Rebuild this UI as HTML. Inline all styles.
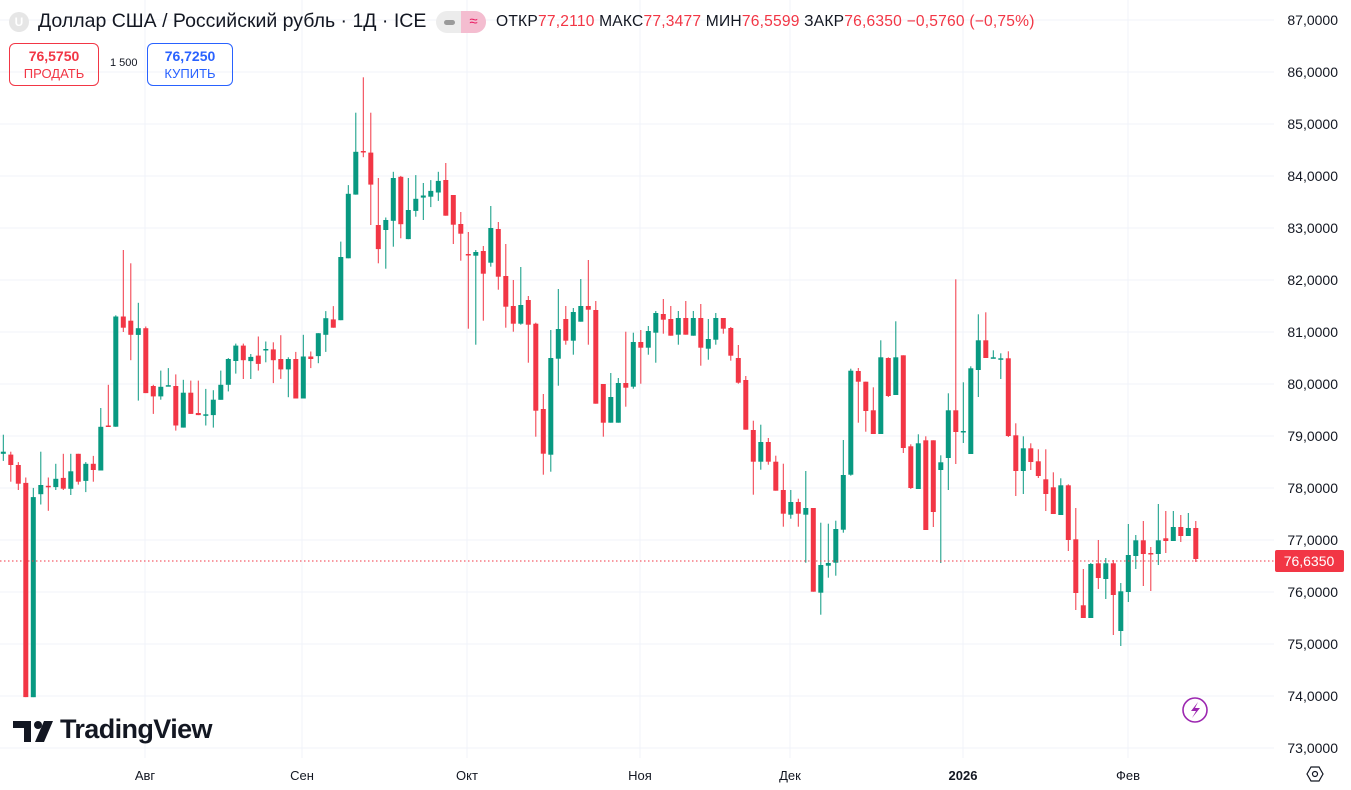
<!DOCTYPE html>
<html><head><meta charset="utf-8"><style>
body{margin:0;width:1351px;height:790px;overflow:hidden;background:#fff;font-family:"Liberation Sans",sans-serif;position:relative}
.ab{position:absolute;white-space:nowrap}
</style></head><body>
<svg id="c" width="1351" height="790" style="position:absolute;left:0;top:0"></svg>
<div class="ab" style="left:9px;top:12px;width:20px;height:20px;border-radius:50%;background:#e6e6e6;color:#fff;font-size:12px;font-weight:bold;text-align:center;line-height:20px">U</div>
<div class="ab" style="left:38px;top:10px;font-size:19.5px;color:#131722">Доллар США / Российский рубль · 1Д · ICE</div>
<div class="ab" style="left:436px;top:11px;width:50px;height:22px;border-radius:11px;background:#ececec;overflow:hidden"><div style="position:absolute;left:25px;top:0;width:25px;height:22px;background:#f4bdd0;color:#e91e63;font-size:15px;text-align:center;line-height:22px">≈</div><div style="position:absolute;left:8px;top:9px;width:11px;height:5px;border-radius:3px;background:#9a9a9a"></div></div>
<div class="ab" style="left:496px;top:13px;font-size:15.6px;color:#131722;letter-spacing:0.2px">ОТКР<span style="color:#f23645">77,2110</span> МАКС<span style="color:#f23645">77,3477</span> МИН<span style="color:#f23645">76,5599</span> ЗАКР<span style="color:#f23645">76,6350 −0,5760 (−0,75%)</span></div>
<div class="ab" style="left:9px;top:43px;width:88px;height:41px;border:1px solid #f23645;border-radius:6px;text-align:center;color:#f23645"><div style="font-size:14px;font-weight:bold;margin-top:4px">76,5750</div><div style="font-size:13px;margin-top:2px">ПРОДАТЬ</div></div>
<div class="ab" style="left:110px;top:57px;font-size:11px;color:#131722">1 500</div>
<div class="ab" style="left:147px;top:43px;width:84px;height:41px;border:1px solid #2962ff;border-radius:6px;text-align:center;color:#2962ff"><div style="font-size:14px;font-weight:bold;margin-top:4px">76,7250</div><div style="font-size:13px;margin-top:2px">КУПИТЬ</div></div>
<div class="ab" style="left:60px;top:714px;font-size:27px;font-weight:bold;color:#131722;letter-spacing:-0.6px">TradingView</div>
<script>
var s=document.getElementById('c'),h='';
for(var v=87;v>=73;v--){var y=20+(87-v)*52;h+='<line x1="0" x2="1274" y1="'+y+'" y2="'+y+'" stroke="#f0f3fa"/>';h+='<text x="1338" y="'+(y+5)+'" font-size="14" text-anchor="end" fill="#131722" font-family="Liberation Sans">'+v+',0000</text>';}
var mx=[[145,'Авг'],[302,'Сен'],[467,'Окт'],[640,'Ноя'],[790,'Дек'],[963,'2026'],[1128,'Фев']];
mx.forEach(function(m){h+='<line x1="'+m[0]+'" x2="'+m[0]+'" y1="0" y2="758" stroke="#f0f3fa"/>';h+='<text x="'+m[0]+'" y="780" font-size="13" text-anchor="middle" fill="#131722" font-family="Liberation Sans"'+(m[1]=='2026'?' font-weight="bold"':'')+'>'+m[1]+'</text>';});
var A=[['g',902,965,943,948],['r',943,1015,950,975],['r',968,1035,975,1020],['r',1005,1533,1018,1533],['g',1030,1533,1052,1533],['g',943,1070,1023,1045],['r',1005,1085,1025,1028],['g',972,1035,1008,1028],['r',948,1035,1006,1032],['g',948,1047,990,1032],['r',948,1022,948,1015],['g',968,1040,972,1013],['r',953,1015,972,987],['g',838,988,883,988],['r',782,883,880,883],['g',615,883,618,883],['r',458,655,618,645],['r',490,723,628,662],['g',585,820,646,662],['r',642,802,646,802],['r',782,852,785,810],['g',748,818,787,810],['g',742,785,783,786],['r',757,892,785,880],['g',770,885,801,885],['r',772,852,801,852],['r',772,855,850,855],['g',792,880,853,856],['g',795,885,818,855],['g',748,818,782,818],['g',718,798,720,782],['g',683,755,688,725],['r',683,768,688,723],['g',708,768,715,725],['r',666,748,712,732],['g',678,728,696,699],['r',680,778,697,723],['r',663,768,720,745],['g',716,812,720,745],['r',703,815,720,815],['g',662,815,714,815],['r',702,742,714,720],['g',658,730,658,713],['g',605,703,622,662],['r',593,645,625,645],['g',438,627,475,627],['g',302,478,323,478],['g',128,325,222,325],['r',43,235,220,223],['r',128,398,224,301],['r',285,490,398,456],['g',380,503,386,410],['g',270,450,285,388],['r',280,430,282,396],['g',285,432,362,432],['g',278,378,335,364],['g',297,386,327,332],['g',290,355,316,330],['g',270,340,292,320]];
var B=[['r',15,173,66,173],['r',111,258,111,200],['r',162,308,198,227],['r',222,512,288,290],['g',276,560,282,293],['r',264,488,279,347],['g',144,326,210,314],['r',192,395,213,356],['r',258,509,354,446],['r',366,521,444,497],['g',327,500,441,497],['r',414,614,426,500],['r',494,836,497,758],['r',708,950,753,887],['g',516,941,600,890],['g',393,683,513,602],['r',444,560,483,548],['g',450,590,462,548],['g',363,491,444,491],['r',306,560,444,455],['r',429,737,456,737],['r',678,836,678,794],['g',645,794,717,794],['g',660,794,675,794],['r',521,746,675,689],['g',524,692,552,686],['r',516,677,552,569],['g',504,590,519,569],['g',459,614,465,524],['r',423,527,468,485],['r',444,533,483,533],['g',459,560,480,530],['r',429,530,480,530],['g',459,533,480,533],['r',438,623,480,569],['g',483,605,543,572],['g',465,560,480,545],['r',480,527,480,512],['r',507,608,510,593],['r',561,677,600,674],['r',654,815,666,815],['r',788,1010,816,911],['g',800,935,852,911],['r',840,920,852,911],['r',893,998,911,998],['r',917,1106,996,1067],['g',996,1082,1032,1070],['r',1022,1106,1032,1067],['g',939,1214,1050,1070],['r',1050,1301,1050,1301],['g',1094,1370,1221,1304],['g',1097,1259,1215,1223],['g',1088,1253,1113,1214],['g',846,1124,951,1115],['g',632,953,638,950],['r',630,794,639,671]];
var C=[['r',340,490,340,428],['r',357,497,426,497],['g',216,497,267,497],['r',267,386,269,383],['g',159,380,267,380],['r',261,554,261,539],['r',528,662,534,659],['g',498,662,525,662],['r',504,785,516,785],['r',516,776,516,731],['g',561,884,582,605],['g',375,665,426,569],['r',33,587,426,491],['g',342,524,488,491],['g',294,557,300,557],['g',138,386,216,305],['r',132,269,216,269],['g',246,269,267,269],['g',255,332,270,272],['r',249,506,270,503],['r',465,683,501,608],['g',504,677,540,608],['r',525,605,540,581],['r',543,629,579,623],['r',543,728,633,677],['r',612,737,657,737],['g',630,740,651,740],['r',648,848,651,815],['r',719,1025,813,974],['r',902,1049,1011,1049],['g',884,1049,887,1049],['r',815,962,885,929],['g',869,992,885,932],['r',875,1100,885,980],['g',944,1133,969,1088],['g',767,1001,860,971],['g',800,902,816,863],['r',758,953,816,857],['r',836,968,854,857],['g',707,890,816,857],['r',728,854,810,818],['g',728,818,776,818],['r',740,821,776,803],['g',734,803,779,803],['r',758,881,779,872]];
function f1(z){return 74+(z-35)*0.416}function f2(z){return 158+z/3}function f3(z){return 280+(z-35)/3}
var all=[];A.forEach(function(d){all.push([d[0],f1(d[1]),f1(d[2]),f1(d[3]),f1(d[4])])});
B.forEach(function(d){all.push([d[0],f2(d[1]),f2(d[2]),f2(d[3]),f2(d[4])])});
C.forEach(function(d){all.push([d[0],f3(d[1]),f3(d[2]),f3(d[3]),f3(d[4])])});
all.forEach(function(d,i){var x=3.3+7.5*i,col=d[0]=='g'?'#089981':'#f23645';var bh=Math.max(1.5,d[4]-d[3]);
h+='<rect x="'+(x-0.5).toFixed(1)+'" y="'+d[1].toFixed(1)+'" width="1" height="'+(d[2]-d[1]).toFixed(1)+'" fill="'+col+'"/>';
h+='<rect x="'+(x-2.5).toFixed(1)+'" y="'+d[3].toFixed(1)+'" width="5" height="'+bh.toFixed(1)+'" fill="'+col+'"/>';});
h+='<line x1="0" x2="1274" y1="561" y2="561" stroke="#f23645" stroke-dasharray="1.5,2.5"/>';
h+='<rect x="1275" y="550" width="69" height="22" rx="2" fill="#f23645"/><text x="1309" y="566" font-size="14" text-anchor="middle" fill="#fff" font-family="Liberation Sans">76,6350</text>';
h+='<circle cx="1195" cy="710" r="12" fill="none" stroke="#9c27b0" stroke-width="1.6"/><path d="M1198 702 L1191 711 L1196 711 L1192 718 L1200 708 L1195 708 Z" fill="#9c27b0"/>';
h+='<polygon points="1307,774 1311,767 1319,767 1323,774 1319,781 1311,781" fill="none" stroke="#131722" stroke-width="1.2"/><circle cx="1315" cy="774" r="2.5" fill="none" stroke="#131722" stroke-width="1.2"/>';
h+='<path d="M13 721 H31 V742 H24 V728 H13 Z" fill="#131722"/><circle cx="38" cy="725" r="4" fill="#131722"/><path d="M44 721 H53 L44 742 H35 Z" fill="#131722"/>';
s.innerHTML=h;
</script>
</body></html>
